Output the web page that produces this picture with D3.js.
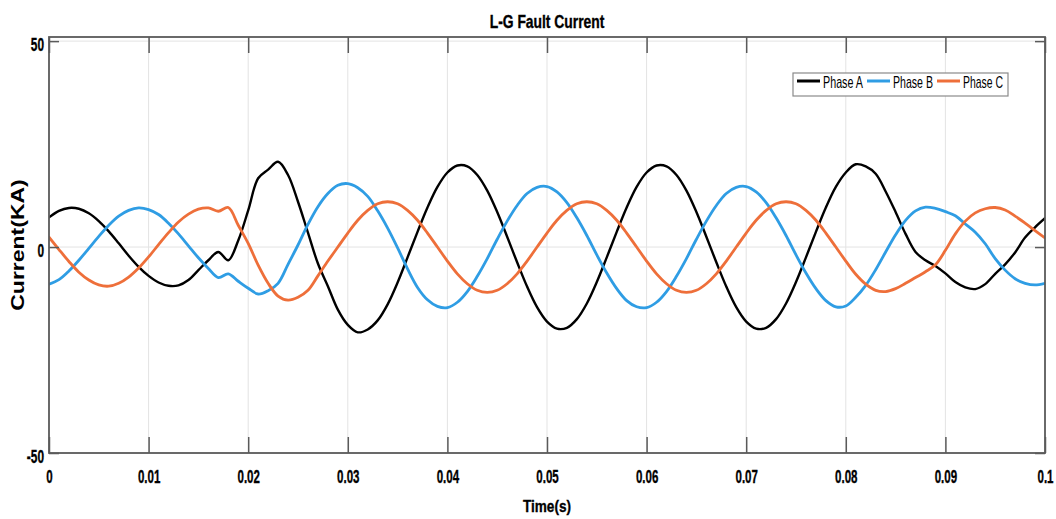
<!DOCTYPE html>
<html>
<head>
<meta charset="utf-8">
<script src="https://cdn.jsdelivr.net/npm/d3@7"></script>
<style>
  html, body { margin: 0; padding: 0; background: #fff; }
  svg { display: block; }
  text { font-family: "Liberation Sans", Arial, sans-serif; fill: #000; }
  text.heavy { stroke: #000; stroke-width: 0.35px; }
</style>
</head>
<body>
<svg id="chart" width="1056" height="519"></svg>
<script>
// Sampling interval of the recorded waveforms (seconds)
const sampleStep = 0.001;

// Phase currents in kA, one sample per millisecond from 0 to 0.1 s
const phaseA = [
  7.2, 8.8, 9.5, 9.3, 8.2, 6.3, 3.8, 0.9, -2.1, -4.8,
  -7.0, -8.6, -9.4, -9.3, -8.0, -5.6, -3.2, -1.2, -3.2, 1.6,
  8.9, 16.7, 18.8, 20.7, 17.5, 11.0, 3.5, -4.0, -9.5, -15.2,
  -18.9, -20.7, -20.0, -17.8, -13.9, -8.6, -2.5, 3.7, 9.6, 14.6,
  18.1, 19.8, 19.6, 17.5, 13.7, 8.5, 2.5, -3.7, -9.6, -14.6,
  -18.1, -19.8, -19.6, -17.5, -13.7, -8.5, -2.5, 3.7, 9.6, 14.6,
  18.1, 19.8, 19.6, 17.5, 13.7, 8.5, 2.5, -3.7, -9.6, -14.6,
  -18.1, -19.8, -19.6, -17.5, -13.7, -8.5, -2.5, 3.7, 9.6, 14.6,
  18.1, 20.1, 19.6, 17.8, 13.5, 8.5, 3.2, -1.2, -3.2, -4.6,
  -6.4, -8.5, -9.8, -10.2, -9.0, -6.5, -4.2, -1.3, 2.3, 4.8,
  7.0
];
const phaseB = [
  -9.0, -7.9, -5.8, -3.2, -0.3, 2.6, 5.3, 7.5, 8.9, 9.5,
  9.1, 7.9, 5.8, 3.2, 0.3, -2.6, -5.2, -7.4, -6.5, -8.3,
  -10.0, -11.4, -10.6, -8.8, -4.2, 0.5, 5.5, 9.8, 13.0, 15.0,
  15.4, 14.4, 12.3, 8.8, 4.6, -0.2, -5.3, -9.8, -12.8, -14.4,
  -14.7, -13.4, -10.8, -7.1, -2.8, 1.9, 6.3, 10.1, 13.0, 14.5,
  14.7, 13.4, 10.8, 7.1, 2.8, -1.9, -6.3, -10.1, -13.0, -14.5,
  -14.7, -13.4, -10.8, -7.1, -2.8, 1.9, 6.3, 10.1, 13.0, 14.5,
  14.7, 13.4, 10.8, 7.1, 2.8, -1.9, -6.3, -10.1, -13.0, -14.5,
  -14.3, -12.2, -9.3, -5.5, -1.2, 3.0, 6.5, 8.8, 9.7, 9.4,
  8.6, 7.6, 5.6, 3.6, 0.8, -2.8, -5.6, -7.7, -8.8, -9.2,
  -8.8
];
const phaseC = [
  2.4, -0.6, -3.5, -6.1, -8.0, -9.2, -9.5, -8.8, -7.3, -5.1,
  -2.4, 0.6, 3.5, 6.1, 8.0, 9.2, 9.5, 8.7, 9.6, 5.3,
  0.9, -4.4, -8.8, -11.9, -12.9, -12.2, -10.5, -7.0, -3.4, 0.0,
  3.4, 6.5, 8.9, 10.5, 11.0, 10.5, 8.9, 6.5, 3.4, 0.0,
  -3.4, -6.5, -8.9, -10.5, -11.0, -10.5, -8.9, -6.5, -3.4, 0.0,
  3.4, 6.5, 8.9, 10.5, 11.0, 10.5, 8.9, 6.5, 3.4, 0.0,
  -3.4, -6.5, -8.9, -10.5, -11.0, -10.5, -8.9, -6.5, -3.4, 0.0,
  3.4, 6.5, 8.9, 10.5, 11.0, 10.5, 8.9, 6.5, 3.4, 0.0,
  -3.4, -6.6, -9.0, -10.5, -10.8, -10.1, -8.8, -7.4, -6.0, -4.3,
  -0.8, 3.2, 6.3, 8.3, 9.3, 9.6, 9.0, 7.5, 5.8, 4.0,
  2.2
];

const seriesNames = ["Phase A", "Phase B", "Phase C"];
const seriesColors = ["#000000", "#2f9de4", "#ee6f3a"];
const seriesWidths = [2.4, 2.8, 2.8];

const xTickValues = [0, 0.01, 0.02, 0.03, 0.04, 0.05, 0.06, 0.07, 0.08, 0.09, 0.1];
const xTickLabels = ["0", "0.01", "0.02", "0.03", "0.04", "0.05", "0.06", "0.07", "0.08", "0.09", "0.1"];
const yTickValues = [-50, 0, 50];
const yTickLabels = ["-50", "0", "50"];

const titleText = "L-G Fault Current";
const xLabelText = "Time(s)";
const yLabelText = "Current(KA)";

// ---- layout ----
const svg = d3.select("#chart");
const plot = { left: 49, right: 1045, top: 37, bottom: 453 };

const x = d3.scaleLinear().domain([0, 0.1]).range([plot.left, plot.right]);
const y = d3.scaleLinear().domain([-50, 51]).range([plot.bottom, plot.top]);

const series = [phaseA, phaseB, phaseC].map((vals, i) => ({
  name: seriesNames[i],
  color: seriesColors[i],
  width: seriesWidths[i],
  points: vals.map((v, k) => ({ t: k * sampleStep, v }))
}));

// grid
const grid = svg.append("g").attr("class", "grid");
grid.selectAll("line.gx")
  .data(xTickValues.slice(1, -1))
  .join("line")
  .attr("x1", d => x(d)).attr("x2", d => x(d))
  .attr("y1", plot.top).attr("y2", plot.bottom)
  .attr("stroke", "#e3e3e3").attr("stroke-width", 1);
grid.selectAll("line.gy")
  .data(yTickValues)
  .join("line")
  .attr("x1", plot.left).attr("x2", plot.right)
  .attr("y1", d => y(d)).attr("y2", d => y(d))
  .attr("stroke", "#e3e3e3").attr("stroke-width", 1);

// curves
svg.append("clipPath").attr("id", "plotClip")
  .append("rect")
  .attr("x", plot.left).attr("y", plot.top)
  .attr("width", plot.right - plot.left).attr("height", plot.bottom - plot.top);

const line = d3.line()
  .x(d => x(d.t))
  .y(d => y(d.v))
  .curve(d3.curveCatmullRom.alpha(0.5));

svg.append("g").attr("clip-path", "url(#plotClip)")
  .selectAll("path")
  .data(series)
  .join("path")
  .attr("d", d => line(d.points))
  .attr("fill", "none")
  .attr("stroke", d => d.color)
  .attr("stroke-width", d => d.width)
  .attr("stroke-linejoin", "round")
  .attr("stroke-linecap", "round");

// axes
const axisColor = "#5a5a5a";
const tickLabel = d => xTickLabels[xTickValues.indexOf(d)];

const xAxis = svg.append("g")
  .attr("transform", `translate(0,${plot.bottom})`)
  .call(d3.axisBottom(x).tickValues(xTickValues).tickFormat(tickLabel)
    .tickSizeInner(-16).tickSizeOuter(0));
xAxis.selectAll("text")
  .attr("class", "heavy")
  .attr("y", 30).attr("dy", null)
  .attr("transform", "scale(0.64,1)")
  .style("font-size", "18px").style("font-weight", "bold");

const xTop = svg.append("g")
  .attr("transform", `translate(0,${plot.top})`)
  .call(d3.axisTop(x).tickValues(xTickValues).tickFormat("")
    .tickSizeInner(-16).tickSizeOuter(0));

const yAxis = svg.append("g")
  .attr("transform", `translate(${plot.left},0)`)
  .call(d3.axisLeft(y).tickValues(yTickValues)
    .tickFormat(d => yTickLabels[yTickValues.indexOf(d)])
    .tickSizeInner(-10).tickSizeOuter(0));
yAxis.selectAll("text")
  .attr("class", "heavy")
  .attr("x", 0).attr("y", 9).attr("dy", null)
  .attr("transform", "translate(-5,0) scale(0.66,1)")
  .style("font-size", "18px").style("font-weight", "bold");

const yRight = svg.append("g")
  .attr("transform", `translate(${plot.right},0)`)
  .call(d3.axisRight(y).tickValues(yTickValues).tickFormat("")
    .tickSizeInner(-10).tickSizeOuter(0));

[xAxis, xTop, yAxis, yRight].forEach(g => {
  g.select(".domain").remove();
  g.selectAll(".tick line").attr("stroke", axisColor).attr("stroke-width", 1.5);
  g.selectAll(".tick text").attr("fill", "#000");
});

// frame
svg.append("rect")
  .attr("x", plot.left).attr("y", plot.top)
  .attr("width", plot.right - plot.left).attr("height", plot.bottom - plot.top)
  .attr("fill", "none").attr("stroke", axisColor).attr("stroke-width", 1.8);

// title and axis labels
const midX = (plot.left + plot.right) / 2;
svg.append("text")
  .attr("class", "heavy")
  .attr("transform", `translate(${midX},28) scale(0.77,1)`)
  .attr("text-anchor", "middle")
  .style("font-size", "18px").style("font-weight", "bold")
  .text(titleText);

svg.append("text")
  .attr("class", "heavy")
  .attr("transform", `translate(${midX},512) scale(0.8,1)`)
  .attr("text-anchor", "middle")
  .style("font-size", "17px").style("font-weight", "bold")
  .text(xLabelText);

svg.append("text")
  .attr("transform", `translate(23.5,${(plot.top + plot.bottom) / 2}) rotate(-90) scale(1,0.78)`)
  .attr("text-anchor", "middle")
  .style("font-size", "23px").style("font-weight", "bold")
  .text(yLabelText);

// legend
const legend = svg.append("g").attr("transform", "translate(793,73)");
legend.append("rect")
  .attr("x", 0).attr("y", 0).attr("width", 215).attr("height", 23)
  .attr("fill", "#fff").attr("stroke", "#8a8a8a").attr("stroke-width", 1.2);

const item = legend.selectAll("g.item")
  .data(series)
  .join("g")
  .attr("class", "item")
  .attr("transform", (d, i) => `translate(${4 + i * 70},0)`);
item.append("line")
  .attr("x1", 0).attr("x2", 23).attr("y1", 8).attr("y2", 8)
  .attr("stroke", d => d.color).attr("stroke-width", 3);
item.append("text")
  .attr("x", 26).attr("y", 15)
  .attr("textLength", 40).attr("lengthAdjust", "spacingAndGlyphs")
  .style("font-size", "17px")
  .text(d => d.name);
</script>
</body>
</html>
